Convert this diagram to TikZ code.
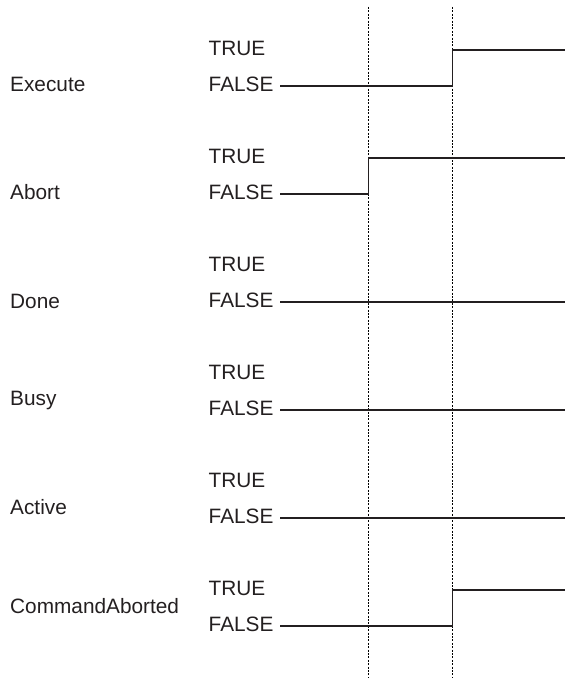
\documentclass[tikz,border=0pt]{standalone}
\usepackage{fontspec}
\setmainfont{Liberation Sans}
\definecolor{ink}{HTML}{231F20}
\begin{document}
\begin{tikzpicture}[x=1bp,y=-1bp,
  lbl/.style={anchor=base west,inner sep=0pt,text=ink,font=\fontsize{20.8bp}{24bp}\selectfont},
  sig/.style={draw=ink,line width=1.8bp},
  guide/.style={draw=black,line width=1.8bp,dash pattern=on 2bp off 1.4bp}]
\useasboundingbox (0,0) rectangle (565,679);
% guides
\coordinate (g1t) at (368.5,7); \coordinate (g1b) at (368.5,677);
\coordinate (g2t) at (452.5,7); \coordinate (g2b) at (452.5,677);
\draw[guide] (g1t) -- (g1b);
\draw[guide] (g2t) -- (g2b);
% names
\node[lbl] (nExe) at (10,91.5) {Execute};
\node[lbl] (nAbo) at (10,199.5) {Abort};
\node[lbl] (nDon) at (10,308.5) {Done};
\node[lbl] (nBus) at (10,405.5) {Busy};
\node[lbl] (nAct) at (10,514.5) {Active};
\node[lbl] (nCmd) at (10,613.5) {CommandAborted};
% TRUE / FALSE labels
\foreach \i/\y in {1/86,2/194,3/302,4/410,5/518,6/626}{
  \node[lbl] (t\i) at (208.5,\y-30.5) {TRUE};
  \node[lbl] (f\i) at (208.5,\y+5.5) {FALSE};
  \coordinate (s\i) at (280,\y);
}
% Execute
\coordinate (e1) at (452.5,86); \coordinate (e2) at (452.5,50); \coordinate (e3) at (565,50);
\draw[sig] (s1) -- (e1) -- (e2) -- (e3);
% Abort
\coordinate (a1) at (368.5,194); \coordinate (a2) at (368.5,158); \coordinate (a3) at (565,158);
\draw[sig] (s2) -- (a1) -- (a2) -- (a3);
% Done, Busy, Active
\coordinate (d3) at (565,302); \draw[sig] (s3) -- (d3);
\coordinate (b3) at (565,410); \draw[sig] (s4) -- (b3);
\coordinate (c3) at (565,518); \draw[sig] (s5) -- (c3);
% CommandAborted
\coordinate (k1) at (452.5,626); \coordinate (k2) at (452.5,590); \coordinate (k3) at (565,590);
\draw[sig] (s6) -- (k1) -- (k2) -- (k3);
\end{tikzpicture}
\end{document}
